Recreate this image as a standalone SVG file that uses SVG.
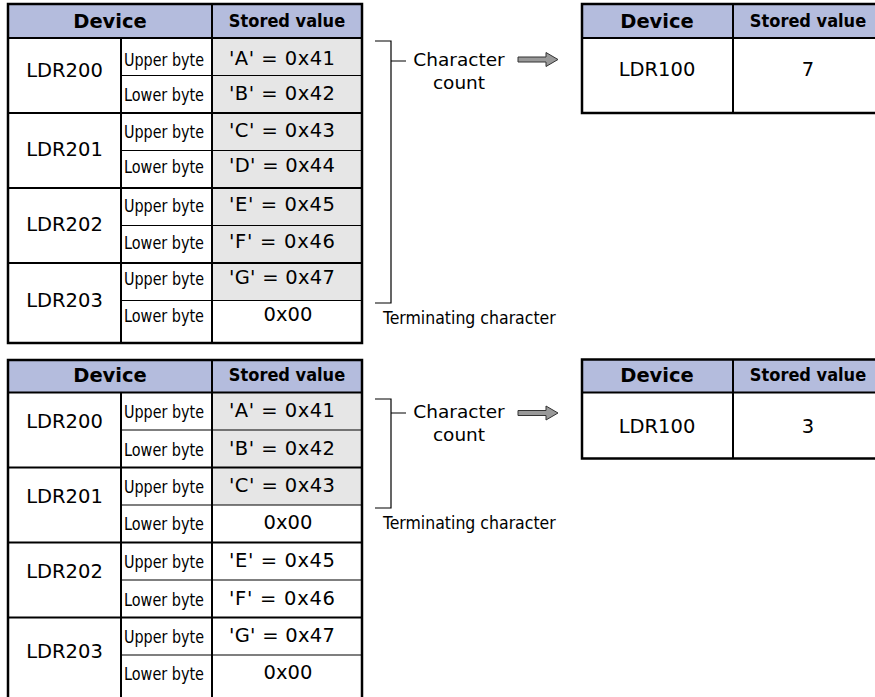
<svg xmlns="http://www.w3.org/2000/svg" width="875" height="697" viewBox="0 0 875 697">
<style>
.bg{fill:#ffffff}
.hdr{fill:#b4bcdd}
.gray{fill:#e6e6e6}
.outer{fill:none;stroke:#000;stroke-width:2.5}
.thk{stroke:#000;stroke-width:2;fill:none}
.thn{stroke:#000;stroke-width:1.2;fill:none}
.brk{stroke:#000;stroke-width:1.2;fill:none}
.arr{fill:#999;stroke:#333;stroke-width:1}
text{fill:#000}
.hd{font-family:"DejaVu Sans",Verdana,sans-serif;font-weight:bold;font-size:19.5px;text-anchor:middle}
.hs{font-family:"DejaVu Sans Condensed","DejaVu Sans",sans-serif;font-stretch:condensed;font-weight:bold;font-size:18px;text-anchor:middle}
.big{font-family:"DejaVu Sans",Verdana,sans-serif;font-size:19.5px;text-anchor:middle}
.val{font-family:"DejaVu Sans",Verdana,sans-serif;font-size:19.5px;text-anchor:middle}
.byte{font-family:"DejaVu Sans Condensed","DejaVu Sans",sans-serif;font-stretch:condensed;font-size:17px}
.lbl{font-family:"DejaVu Sans",Verdana,sans-serif;font-size:18.5px;text-anchor:middle}
.term{font-family:"DejaVu Sans Condensed","DejaVu Sans",sans-serif;font-stretch:condensed;font-size:17.5px}
</style>

<g id="table-top">
  <rect class="bg" x="8" y="4" width="354" height="339"/>
  <rect class="hdr" x="8" y="4" width="354" height="34"/>
  <rect class="gray" x="212" y="38" width="150" height="262.5"/>
  <line class="thn" x1="121" y1="75.5" x2="362" y2="75.5"/>
  <line class="thn" x1="121" y1="150.5" x2="362" y2="150.5"/>
  <line class="thn" x1="121" y1="225.5" x2="362" y2="225.5"/>
  <line class="thn" x1="121" y1="300.5" x2="362" y2="300.5"/>
  <line class="thk" x1="8" y1="113" x2="362" y2="113"/>
  <line class="thk" x1="8" y1="188" x2="362" y2="188"/>
  <line class="thk" x1="8" y1="263" x2="362" y2="263"/>
  <line class="thk" x1="8" y1="38" x2="362" y2="38"/>
  <line class="thk" x1="121" y1="38" x2="121" y2="343"/>
  <line class="thk" x1="212" y1="4" x2="212" y2="343"/>
  <rect class="outer" x="8" y="4" width="354" height="339"/>
  <text class="hd" x="110" y="28">Device</text>
  <text class="hs" x="287" y="27">Stored value</text>
  <text class="big" x="64.5" y="77">LDR200</text>
  <text class="big" x="64.5" y="156">LDR201</text>
  <text class="big" x="64.5" y="231">LDR202</text>
  <text class="big" x="64.5" y="307">LDR203</text>
  <text class="byte" x="124" y="66" textLength="80" lengthAdjust="spacingAndGlyphs">Upper byte</text>
  <text class="byte" x="124" y="101" textLength="80" lengthAdjust="spacingAndGlyphs">Lower byte</text>
  <text class="byte" x="124" y="138" textLength="80" lengthAdjust="spacingAndGlyphs">Upper byte</text>
  <text class="byte" x="124" y="173" textLength="80" lengthAdjust="spacingAndGlyphs">Lower byte</text>
  <text class="byte" x="124" y="212" textLength="80" lengthAdjust="spacingAndGlyphs">Upper byte</text>
  <text class="byte" x="124" y="249" textLength="80" lengthAdjust="spacingAndGlyphs">Lower byte</text>
  <text class="byte" x="124" y="285" textLength="80" lengthAdjust="spacingAndGlyphs">Upper byte</text>
  <text class="byte" x="124" y="322" textLength="80" lengthAdjust="spacingAndGlyphs">Lower byte</text>
  <text class="val" x="282" y="65" textLength="106">'A' = 0x41</text>
  <text class="val" x="282" y="100" textLength="106">'B' = 0x42</text>
  <text class="val" x="282" y="137" textLength="106">'C' = 0x43</text>
  <text class="val" x="282" y="172" textLength="106">'D' = 0x44</text>
  <text class="val" x="282" y="211" textLength="106">'E' = 0x45</text>
  <text class="val" x="282" y="248" textLength="106">'F' = 0x46</text>
  <text class="val" x="282" y="284" textLength="106">'G' = 0x47</text>
  <text class="val" x="288" y="321">0x00</text>
</g>

<g id="table-top-count">
  <rect class="bg" x="582" y="4" width="301" height="109"/>
  <rect class="hdr" x="582" y="4" width="301" height="34"/>
  <line class="thk" x1="582" y1="38" x2="883" y2="38"/>
  <line class="thk" x1="733" y1="4" x2="733" y2="113"/>
  <rect class="outer" x="582" y="4" width="301" height="109"/>
  <text class="hd" x="657" y="28">Device</text>
  <text class="hs" x="808" y="27">Stored value</text>
  <text class="big" x="657" y="76">LDR100</text>
  <text class="big" x="808" y="76">7</text>
</g>

<g id="table-bottom">
  <rect class="bg" x="8" y="360" width="354" height="345"/>
  <rect class="hdr" x="8" y="360" width="354" height="32.5"/>
  <rect class="gray" x="212" y="392.5" width="150" height="112.5"/>
  <line class="thn" x1="121" y1="430" x2="362" y2="430"/>
  <line class="thn" x1="121" y1="505" x2="362" y2="505"/>
  <line class="thn" x1="121" y1="580" x2="362" y2="580"/>
  <line class="thn" x1="121" y1="655" x2="362" y2="655"/>
  <line class="thk" x1="8" y1="467.5" x2="362" y2="467.5"/>
  <line class="thk" x1="8" y1="542.5" x2="362" y2="542.5"/>
  <line class="thk" x1="8" y1="617.5" x2="362" y2="617.5"/>
  <line class="thk" x1="8" y1="392.5" x2="362" y2="392.5"/>
  <line class="thk" x1="121" y1="392.5" x2="121" y2="705"/>
  <line class="thk" x1="212" y1="360" x2="212" y2="705"/>
  <rect class="outer" x="8" y="360" width="354" height="345"/>
  <text class="hd" x="110" y="382">Device</text>
  <text class="hs" x="287" y="381">Stored value</text>
  <text class="big" x="64.5" y="428">LDR200</text>
  <text class="big" x="64.5" y="503">LDR201</text>
  <text class="big" x="64.5" y="578">LDR202</text>
  <text class="big" x="64.5" y="658">LDR203</text>
  <text class="byte" x="124" y="418" textLength="80" lengthAdjust="spacingAndGlyphs">Upper byte</text>
  <text class="byte" x="124" y="456" textLength="80" lengthAdjust="spacingAndGlyphs">Lower byte</text>
  <text class="byte" x="124" y="493" textLength="80" lengthAdjust="spacingAndGlyphs">Upper byte</text>
  <text class="byte" x="124" y="530" textLength="80" lengthAdjust="spacingAndGlyphs">Lower byte</text>
  <text class="byte" x="124" y="568" textLength="80" lengthAdjust="spacingAndGlyphs">Upper byte</text>
  <text class="byte" x="124" y="606" textLength="80" lengthAdjust="spacingAndGlyphs">Lower byte</text>
  <text class="byte" x="124" y="643" textLength="80" lengthAdjust="spacingAndGlyphs">Upper byte</text>
  <text class="byte" x="124" y="680" textLength="80" lengthAdjust="spacingAndGlyphs">Lower byte</text>
  <text class="val" x="282" y="417" textLength="106">'A' = 0x41</text>
  <text class="val" x="282" y="455" textLength="106">'B' = 0x42</text>
  <text class="val" x="282" y="492" textLength="106">'C' = 0x43</text>
  <text class="val" x="288" y="529">0x00</text>
  <text class="val" x="282" y="567" textLength="106">'E' = 0x45</text>
  <text class="val" x="282" y="605" textLength="106">'F' = 0x46</text>
  <text class="val" x="282" y="642" textLength="106">'G' = 0x47</text>
  <text class="val" x="288" y="679">0x00</text>
</g>

<g id="table-bottom-count">
  <rect class="bg" x="582" y="359.5" width="301" height="99"/>
  <rect class="hdr" x="582" y="359.5" width="301" height="33"/>
  <line class="thk" x1="582" y1="392.5" x2="883" y2="392.5"/>
  <line class="thk" x1="733" y1="359.5" x2="733" y2="458.5"/>
  <rect class="outer" x="582" y="359.5" width="301" height="99"/>
  <text class="hd" x="657" y="382">Device</text>
  <text class="hs" x="808" y="381">Stored value</text>
  <text class="big" x="657" y="433">LDR100</text>
  <text class="big" x="808" y="433">3</text>
</g>

<g id="label-top">
  <text class="lbl" x="459" y="66">Character</text>
  <text class="lbl" x="459" y="89">count</text>
  <text class="term" x="383" y="324">Terminating character</text>
</g>

<g id="label-bottom">
  <text class="lbl" x="459" y="418">Character</text>
  <text class="lbl" x="459" y="441">count</text>
  <text class="term" x="383" y="529">Terminating character</text>
</g>

<g id="connectors">
  <path class="brk" d="M375,41 H391 V303 H375 M391,61 H406"/>
  <path class="arr" d="M518,57 H546 V52.5 L558,59.5 L546,66.5 V62 H518 Z"/>
  <path class="brk" d="M375,399 H391 V508 H375 M391,413 H406"/>
  <path class="arr" d="M518,410.5 H546 V406 L558,413 L546,420 V415.5 H518 Z"/>
</g>
</svg>
